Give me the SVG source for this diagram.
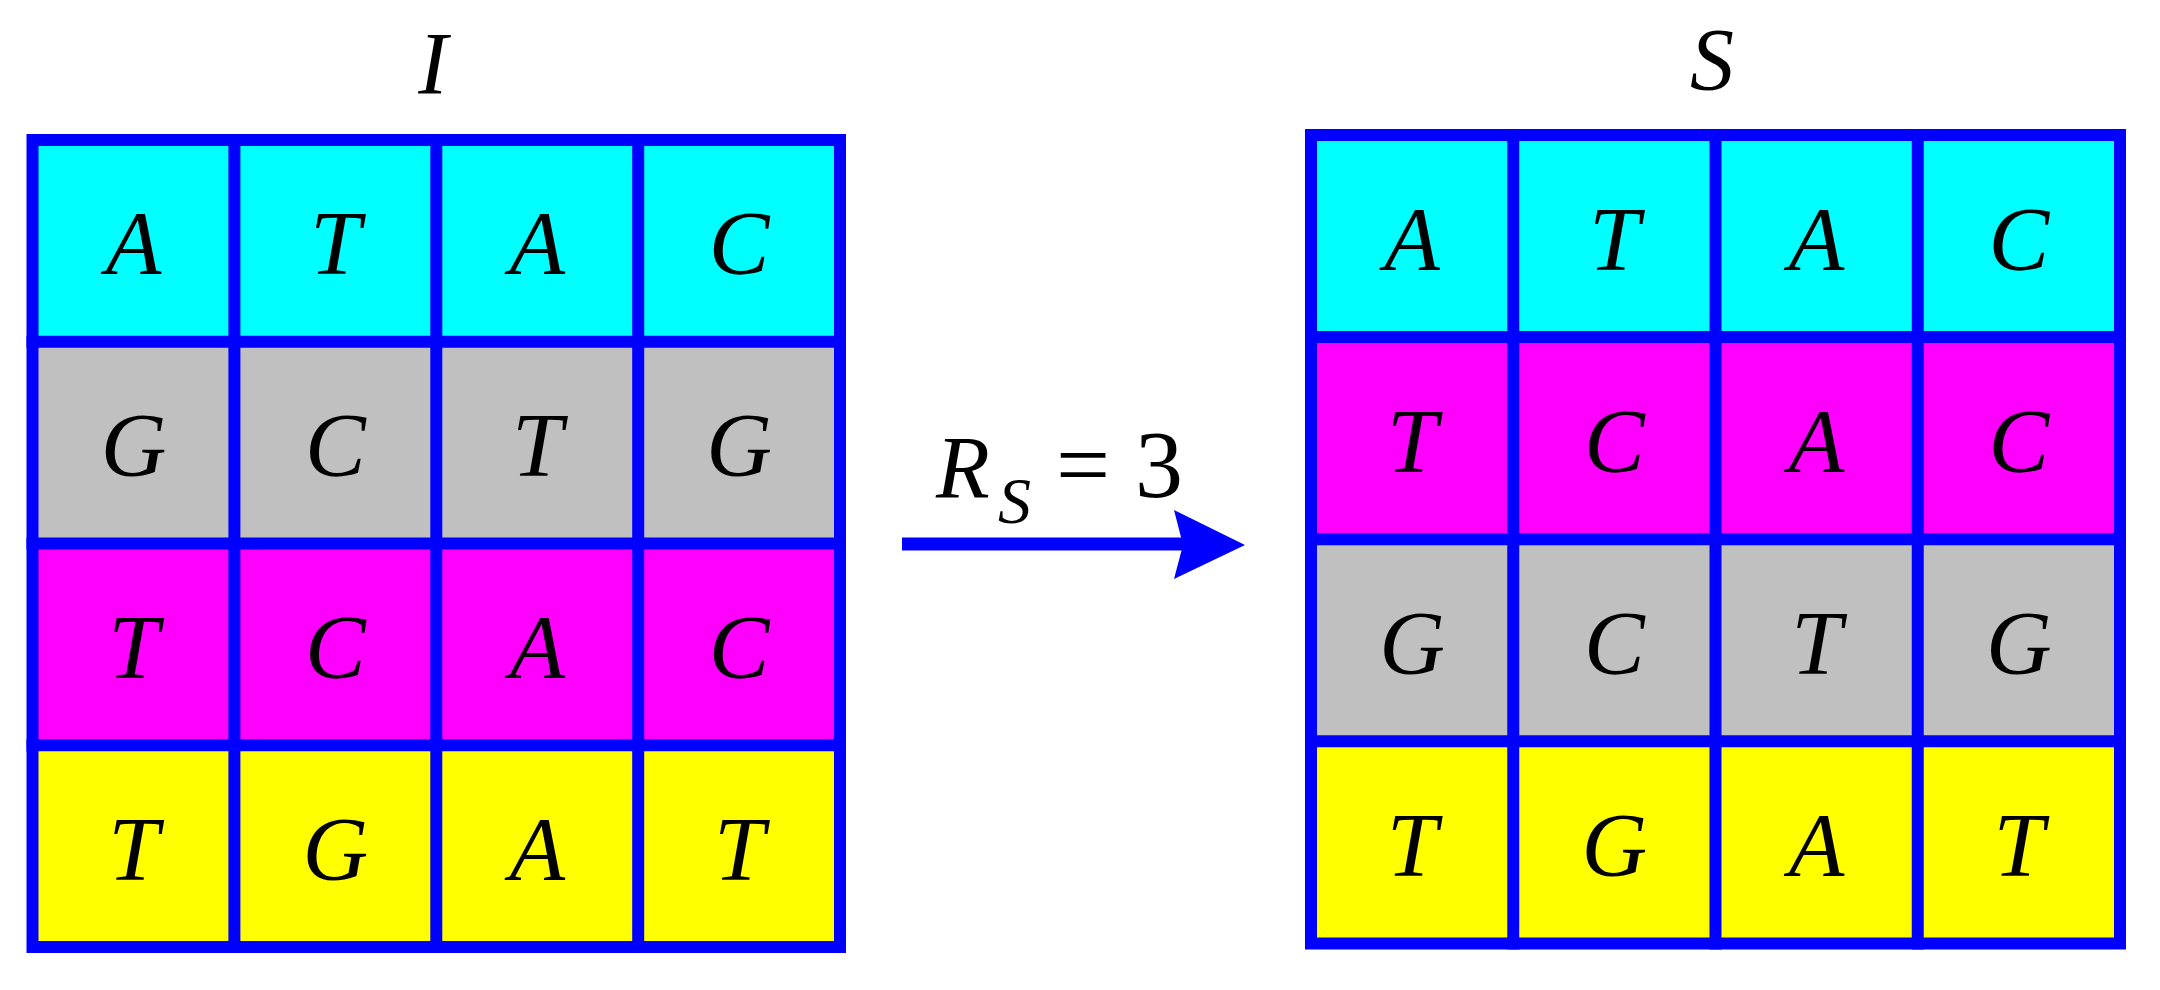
<svg xmlns="http://www.w3.org/2000/svg" width="2160" height="990" viewBox="0 0 2160 990">
<style>
.c{fill:#00FFFF}.g{fill:#C0C0C0}.m{fill:#FF00FF}.y{fill:#FFFF00}
.gl{fill:none;stroke:#0000FF;stroke-width:12;stroke-linecap:square}
text{font-family:'Liberation Serif','Times New Roman',serif;fill:#000}
.t{font-style:italic;font-size:91px;text-anchor:middle}
.h{font-style:italic;font-size:88px;text-anchor:middle}
.r{font-style:italic;font-size:88px}
.sub{font-style:italic;font-size:66px}
.u{font-size:96px}
</style>
<rect width="2160" height="990" fill="#fff"/>
<g id="title-I"><text class="h" x="433" y="93">I</text></g>
<g id="title-S"><text class="h" x="1712" y="89">S</text></g>
<g id="grid-I">
<rect class="c" x="32.5" y="140" width="807.5" height="201.75"/>
<rect class="g" x="32.5" y="341.75" width="807.5" height="201.75"/>
<rect class="m" x="32.5" y="543.5" width="807.5" height="201.75"/>
<rect class="y" x="32.5" y="745.25" width="807.5" height="201.75"/>
<text class="t" x="133.5" y="274">A</text><text class="t" x="335.4" y="274">T</text><text class="t" x="537.3" y="274">A</text><text class="t" x="739.2" y="274">C</text>
<text class="t" x="133.5" y="476">G</text><text class="t" x="335.4" y="476">C</text><text class="t" x="537.3" y="476">T</text><text class="t" x="739.2" y="476">G</text>
<text class="t" x="133.5" y="678">T</text><text class="t" x="335.4" y="678">C</text><text class="t" x="537.3" y="678">A</text><text class="t" x="739.2" y="678">C</text>
<text class="t" x="133.5" y="880">T</text><text class="t" x="335.4" y="880">G</text><text class="t" x="537.3" y="880">A</text><text class="t" x="739.2" y="880">T</text>
<rect class="gl" x="32.5" y="140" width="807.5" height="807"/>
<path class="gl" d="M234.4 140V947M436.3 140V947M638.2 140V947M32.5 341.75H840M32.5 543.5H840M32.5 745.25H840"/>
</g>
<g id="grid-S">
<rect class="c" x="1311" y="135" width="809" height="202.1"/>
<rect class="m" x="1311" y="337.1" width="809" height="202.1"/>
<rect class="g" x="1311" y="539.2" width="809" height="202.1"/>
<rect class="y" x="1311" y="741.3" width="809" height="202.2"/>
<text class="t" x="1412.1" y="270">A</text><text class="t" x="1614.4" y="270">T</text><text class="t" x="1816.6" y="270">A</text><text class="t" x="2018.9" y="270">C</text>
<text class="t" x="1412.1" y="472">T</text><text class="t" x="1614.4" y="472">C</text><text class="t" x="1816.6" y="472">A</text><text class="t" x="2018.9" y="472">C</text>
<text class="t" x="1412.1" y="674">G</text><text class="t" x="1614.4" y="674">C</text><text class="t" x="1816.6" y="674">T</text><text class="t" x="2018.9" y="674">G</text>
<text class="t" x="1412.1" y="876">T</text><text class="t" x="1614.4" y="876">G</text><text class="t" x="1816.6" y="876">A</text><text class="t" x="2018.9" y="876">T</text>
<rect class="gl" x="1311" y="135" width="809" height="808.5"/>
<path class="gl" d="M1513.25 135V943.5M1715.5 135V943.5M1917.75 135V943.5M1311 337.1H2120M1311 539.2H2120M1311 741.3H2120"/>
</g>
<g id="connectors">
<line x1="902" y1="544" x2="1185" y2="544" stroke="#0000FF" stroke-width="13"/>
<polygon points="1174,510 1245,545 1174,579 1183,545" fill="#0000FF"/>
<text class="r" x="936" y="497">R</text>
<text class="sub" x="998" y="523">S</text>
<text class="u" x="1056" y="497">=</text>
<text class="u" x="1135" y="497">3</text>
</g>
</svg>
